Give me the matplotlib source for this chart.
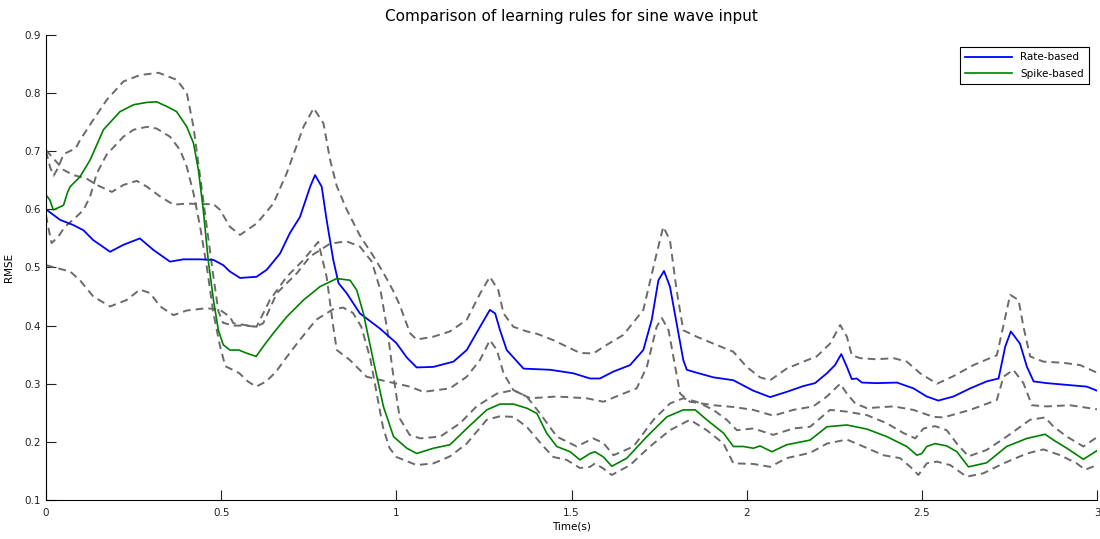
import matplotlib
matplotlib.use('Agg')
import matplotlib.pyplot as plt
from matplotlib.ticker import FormatStrFormatter

# Rate-based rule: mean RMSE and dashed bounds
rate_t = [0.0, 0.04, 0.078, 0.107, 0.135, 0.183, 0.221, 0.268, 0.307, 0.354, 0.392, 0.44, 0.478,
          0.506, 0.525, 0.554, 0.601, 0.63, 0.668, 0.696, 0.725, 0.754, 0.768, 0.787, 0.801, 0.82,
          0.835, 0.858, 0.896, 0.953, 1.0, 1.03, 1.058, 1.106, 1.163, 1.201, 1.239, 1.267, 1.282,
          1.296, 1.315, 1.363, 1.439, 1.505, 1.553, 1.581, 1.62, 1.667, 1.705, 1.729, 1.748, 1.764,
          1.781, 1.8, 1.819, 1.829, 1.857, 1.905, 1.962, 2.019, 2.067, 2.114, 2.162, 2.195, 2.229,
          2.252, 2.27, 2.286, 2.3, 2.314, 2.329, 2.371, 2.429, 2.476, 2.514, 2.547, 2.59, 2.638,
          2.685, 2.719, 2.738, 2.754, 2.78, 2.8, 2.819, 2.857, 2.914, 2.971, 3.0]
rate_mean = [0.6, 0.582, 0.573, 0.564, 0.547, 0.527, 0.539, 0.55, 0.53, 0.51, 0.514, 0.514, 0.513,
             0.504, 0.493, 0.482, 0.484, 0.496, 0.524, 0.559, 0.587, 0.639, 0.659, 0.639, 0.582, 0.513,
             0.473, 0.456, 0.421, 0.395, 0.37, 0.345, 0.328, 0.329, 0.338, 0.358, 0.398, 0.427, 0.421,
             0.392, 0.358, 0.326, 0.324, 0.318, 0.309, 0.309, 0.321, 0.332, 0.358, 0.41, 0.478, 0.494,
             0.467, 0.404, 0.341, 0.324, 0.319, 0.311, 0.306, 0.288, 0.277, 0.286, 0.296, 0.301, 0.318,
             0.332, 0.351, 0.329, 0.308, 0.309, 0.302, 0.301, 0.302, 0.292, 0.278, 0.271, 0.278, 0.292,
             0.304, 0.309, 0.364, 0.39, 0.369, 0.329, 0.304, 0.301, 0.298, 0.295, 0.288]

rate_hi_t = [0.0, 0.05, 0.078, 0.116, 0.145, 0.188, 0.221, 0.259, 0.288, 0.326, 0.364, 0.402, 0.44,
             0.478, 0.497, 0.525, 0.554, 0.602, 0.649, 0.687, 0.735, 0.764, 0.792, 0.811, 0.83, 0.858,
             0.896, 0.934, 0.962, 0.99, 1.01, 1.039, 1.058, 1.106, 1.153, 1.201, 1.239, 1.267, 1.291,
             1.306, 1.334, 1.372, 1.401, 1.448, 1.486, 1.524, 1.562, 1.601, 1.648, 1.705, 1.743, 1.762,
             1.781, 1.8, 1.819, 1.857, 1.905, 1.962, 2.0, 2.038, 2.067, 2.114, 2.162, 2.2, 2.238,
             2.267, 2.286, 2.3, 2.324, 2.371, 2.419, 2.457, 2.495, 2.543, 2.59, 2.647, 2.714, 2.728,
             2.752, 2.776, 2.79, 2.809, 2.847, 2.904, 2.952, 3.0]
rate_hi = [0.702, 0.668, 0.659, 0.653, 0.642, 0.63, 0.642, 0.649, 0.639, 0.622, 0.608, 0.61, 0.609,
           0.609, 0.599, 0.57, 0.556, 0.576, 0.61, 0.662, 0.742, 0.774, 0.748, 0.685, 0.64, 0.6,
           0.555, 0.52, 0.492, 0.461, 0.435, 0.387, 0.376, 0.381, 0.39, 0.41, 0.455, 0.484, 0.461,
           0.421, 0.398, 0.39, 0.386, 0.375, 0.364, 0.353, 0.352, 0.367, 0.384, 0.427, 0.524, 0.57,
           0.547, 0.461, 0.392, 0.381, 0.369, 0.355, 0.329, 0.311, 0.306, 0.326, 0.338, 0.347, 0.369,
           0.401, 0.381, 0.349, 0.344, 0.342, 0.344, 0.338, 0.318, 0.3, 0.313, 0.332, 0.349, 0.387,
           0.453, 0.444, 0.398, 0.347, 0.338, 0.336, 0.332, 0.319]

rate_lo_t = [0.0, 0.069, 0.097, 0.135, 0.183, 0.23, 0.268, 0.297, 0.326, 0.364, 0.402, 0.459, 0.497,
             0.525, 0.535, 0.601, 0.639, 0.687, 0.735, 0.777, 0.801, 0.82, 0.83, 0.867, 0.915, 0.972,
             1.039, 1.077, 1.153, 1.201, 1.239, 1.267, 1.287, 1.306, 1.334, 1.382, 1.458, 1.543, 1.591,
             1.648, 1.686, 1.715, 1.743, 1.758, 1.777, 1.796, 1.81, 1.838, 1.905, 1.962, 2.019, 2.076,
             2.133, 2.19, 2.229, 2.267, 2.286, 2.31, 2.343, 2.419, 2.476, 2.533, 2.562, 2.638, 2.714,
             2.733, 2.761, 2.79, 2.814, 2.857, 2.923, 3.0]
rate_lo = [0.504, 0.493, 0.478, 0.45, 0.433, 0.444, 0.462, 0.456, 0.433, 0.418, 0.426, 0.43, 0.427,
           0.415, 0.404, 0.398, 0.444, 0.484, 0.513, 0.544, 0.484, 0.398, 0.358, 0.341, 0.312, 0.304,
           0.295, 0.286, 0.292, 0.312, 0.341, 0.375, 0.358, 0.318, 0.289, 0.275, 0.278, 0.275, 0.269,
           0.283, 0.292, 0.329, 0.398, 0.413, 0.392, 0.329, 0.283, 0.269, 0.263, 0.26, 0.255, 0.245,
           0.255, 0.261, 0.278, 0.3, 0.283, 0.266, 0.258, 0.261, 0.255, 0.243, 0.242, 0.255, 0.272,
           0.312, 0.324, 0.301, 0.263, 0.261, 0.263, 0.256]

# Spike-based rule: mean RMSE and dashed bounds
spike_t = [0.0, 0.011, 0.021, 0.05, 0.062, 0.069, 0.097, 0.126, 0.164, 0.211, 0.25, 0.288, 0.316,
           0.345, 0.373, 0.402, 0.421, 0.435, 0.449, 0.463, 0.478, 0.492, 0.506, 0.525, 0.55, 0.575,
           0.6, 0.62, 0.649, 0.687, 0.735, 0.782, 0.83, 0.868, 0.887, 0.906, 0.934, 0.963, 0.992,
           1.03, 1.058, 1.106, 1.153, 1.201, 1.258, 1.296, 1.334, 1.372, 1.401, 1.429, 1.458, 1.496,
           1.524, 1.553, 1.567, 1.591, 1.615, 1.658, 1.715, 1.772, 1.819, 1.853, 1.886, 1.934, 1.962,
           1.991, 2.019, 2.038, 2.072, 2.114, 2.181, 2.229, 2.286, 2.343, 2.4, 2.457, 2.486, 2.5,
           2.514, 2.538, 2.571, 2.6, 2.633, 2.685, 2.742, 2.8, 2.852, 2.876, 2.914, 2.961, 3.0]
spike_mean = [0.625, 0.616, 0.599, 0.607, 0.63, 0.639, 0.656, 0.685, 0.737, 0.768, 0.78, 0.784, 0.785,
              0.777, 0.768, 0.742, 0.714, 0.668, 0.599, 0.513, 0.444, 0.392, 0.367, 0.358, 0.358, 0.352,
              0.347, 0.364, 0.387, 0.415, 0.444, 0.467, 0.481, 0.478, 0.461, 0.421, 0.341, 0.261, 0.209,
              0.189, 0.18, 0.189, 0.195, 0.223, 0.255, 0.265, 0.265, 0.258, 0.249, 0.215, 0.192, 0.183,
              0.169, 0.18, 0.183, 0.174, 0.158, 0.172, 0.209, 0.243, 0.255, 0.255, 0.238, 0.215, 0.192,
              0.192, 0.189, 0.193, 0.183, 0.195, 0.203, 0.226, 0.229, 0.222, 0.209, 0.192, 0.177, 0.18,
              0.192, 0.197, 0.193, 0.183, 0.157, 0.164, 0.192, 0.206, 0.213, 0.203, 0.189, 0.17, 0.185]

spike_hi_t = [0.0, 0.012, 0.022, 0.035, 0.05, 0.085, 0.097, 0.135, 0.173, 0.221, 0.268, 0.321, 0.373,
              0.402, 0.421, 0.44, 0.459, 0.478, 0.492, 0.505, 0.535, 0.57, 0.6, 0.62, 0.659, 0.716,
              0.754, 0.811, 0.858, 0.896, 0.93, 0.955, 0.975, 0.99, 1.01, 1.038, 1.068, 1.125, 1.182,
              1.229, 1.287, 1.334, 1.372, 1.41, 1.458, 1.515, 1.562, 1.591, 1.62, 1.677, 1.734, 1.781,
              1.819, 1.857, 1.905, 1.943, 1.972, 2.019, 2.076, 2.133, 2.181, 2.238, 2.286, 2.343, 2.4,
              2.448, 2.481, 2.505, 2.538, 2.571, 2.6, 2.633, 2.685, 2.742, 2.809, 2.852, 2.876, 2.914,
              2.961, 3.0]
spike_hi = [0.7, 0.672, 0.658, 0.672, 0.695, 0.705, 0.719, 0.754, 0.788, 0.82, 0.831, 0.835, 0.823,
            0.8, 0.742, 0.656, 0.57, 0.484, 0.425, 0.405, 0.4, 0.4, 0.398, 0.404, 0.456, 0.49,
            0.519, 0.541, 0.545, 0.536, 0.51, 0.46, 0.39, 0.32, 0.24, 0.212, 0.206, 0.209, 0.232,
            0.261, 0.283, 0.289, 0.278, 0.249, 0.209, 0.192, 0.206, 0.198, 0.177, 0.192, 0.238, 0.266,
            0.275, 0.269, 0.255, 0.238, 0.22, 0.223, 0.212, 0.223, 0.226, 0.255, 0.252, 0.246, 0.232,
            0.215, 0.206, 0.223, 0.227, 0.22, 0.197, 0.175, 0.186, 0.209, 0.238, 0.242, 0.226, 0.209,
            0.192, 0.208]

spike_lo_t = [0.0, 0.008, 0.016, 0.035, 0.054, 0.083, 0.107, 0.126, 0.145, 0.173, 0.221, 0.25, 0.288,
              0.316, 0.354, 0.383, 0.402, 0.421, 0.44, 0.459, 0.478, 0.497, 0.512, 0.533, 0.552, 0.576,
              0.6, 0.629, 0.657, 0.686, 0.724, 0.771, 0.819, 0.848, 0.876, 0.9, 0.925, 0.945, 0.962,
              0.98, 1.0, 1.058, 1.106, 1.153, 1.201, 1.258, 1.296, 1.334, 1.372, 1.42, 1.448, 1.486,
              1.524, 1.553, 1.567, 1.591, 1.615, 1.667, 1.724, 1.781, 1.838, 1.886, 1.934, 1.962, 2.019,
              2.067, 2.114, 2.181, 2.229, 2.286, 2.333, 2.39, 2.438, 2.467, 2.49, 2.514, 2.543, 2.581,
              2.628, 2.676, 2.733, 2.8, 2.847, 2.895, 2.942, 2.966, 3.0]
spike_lo = [0.59, 0.565, 0.542, 0.553, 0.57, 0.585, 0.599, 0.622, 0.662, 0.694, 0.725, 0.737, 0.742,
            0.739, 0.725, 0.702, 0.673, 0.628, 0.57, 0.501, 0.421, 0.364, 0.33, 0.324, 0.318, 0.304,
            0.295, 0.304, 0.321, 0.345, 0.375, 0.41, 0.428, 0.431, 0.422, 0.398, 0.345, 0.28, 0.225,
            0.19, 0.174, 0.16, 0.163, 0.175, 0.197, 0.238, 0.244, 0.243, 0.226, 0.192, 0.174, 0.169,
            0.155, 0.157, 0.163, 0.154, 0.143, 0.16, 0.192, 0.22, 0.238, 0.22, 0.197, 0.163, 0.162,
            0.157, 0.172, 0.181, 0.197, 0.204, 0.192, 0.177, 0.172, 0.157, 0.143, 0.163, 0.166, 0.16,
            0.14, 0.146, 0.163, 0.18, 0.187, 0.177, 0.163, 0.152, 0.16]

x_ticks = [0, 0.5, 1, 1.5, 2, 2.5, 3]
y_ticks = [0.1, 0.2, 0.3, 0.4, 0.5, 0.6, 0.7, 0.8, 0.9]

fig = plt.figure(figsize=(11, 5.39), dpi=100)
ax = fig.add_axes([0.0418, 0.0724, 0.9555, 0.8627])

# dashed spread lines around each mean
band_style = dict(color='#6a6a6a', linewidth=1.4, dashes=(4, 2.6))
for bt, bv in [(rate_hi_t, rate_hi), (rate_lo_t, rate_lo),
               (spike_hi_t, spike_hi), (spike_lo_t, spike_lo)]:
    ax.plot(bt, bv, **band_style)

ax.plot(rate_t, rate_mean, color='#0000ff', linewidth=1.3, label='Rate-based')
ax.plot(spike_t, spike_mean, color='#008000', linewidth=1.2, label='Spike-based')

ax.set_xlim(0, 3)
ax.set_ylim(0.1, 0.9)
ax.set_xticks(x_ticks)
ax.set_yticks(y_ticks)
ax.xaxis.set_major_formatter(FormatStrFormatter('%g'))
ax.yaxis.set_major_formatter(FormatStrFormatter('%g'))
ax.tick_params(direction='in', length=7, width=0.8, labelsize=7.5, colors='#222222')
ax.tick_params(axis='x', pad=6)
ax.spines['top'].set_visible(False)
ax.spines['right'].set_visible(False)
for side in ['left', 'bottom']:
    ax.spines[side].set_linewidth(0.8)

ax.set_title('Comparison of learning rules for sine wave input', fontsize=11, pad=10)
ax.set_xlabel('Time(s)', fontsize=7.5, labelpad=2)
ax.set_ylabel('RMSE', fontsize=7.5, labelpad=8)

leg = ax.legend(loc='upper right', fontsize=7.5, fancybox=False, edgecolor='black',
                framealpha=1, handlelength=4.5, borderpad=0.5, labelspacing=0.6,
                bbox_to_anchor=(0.9975, 0.985))
leg.get_frame().set_linewidth(0.8)

fig.savefig('out.png', dpi=100)
